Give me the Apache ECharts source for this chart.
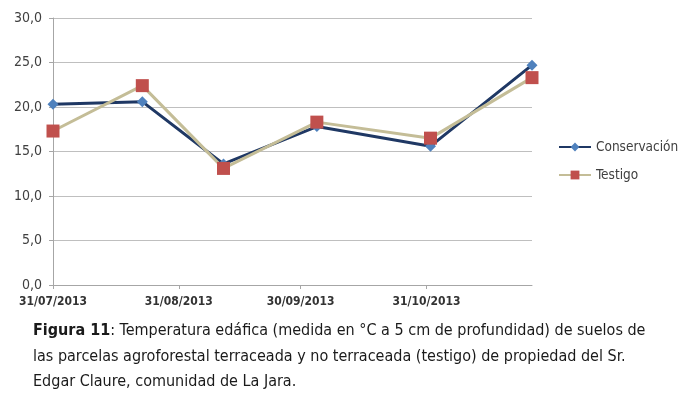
<!DOCTYPE html>
<html>
<head>
<meta charset="utf-8">
<script src="https://cdn.jsdelivr.net/npm/echarts@6/dist/echarts.min.js"></script>
<style>
  html, body { margin: 0; padding: 0; background: #fff; }
  #chart { width: 691px; height: 396px; }
</style>
</head>
<body>
<div id="chart"></div>
<script>
// fechas de muestreo y temperaturas (°C a 5 cm)
var fechas = ['2013-07-31', '2013-08-22', '2013-09-11', '2013-10-04', '2013-11-01', '2013-11-26'];
var conservacion = [20.3, 20.6, 13.6, 17.8, 15.6, 24.7];
var testigo = [17.3, 22.4, 13.1, 18.3, 16.5, 23.3];
var tickFechas = ['2013-07-31', '2013-08-31', '2013-09-30', '2013-10-31'];
var yTicks = [0, 5, 10, 15, 20, 25, 30];

var captionLines = [
  ': Temperatura edáfica (medida en °C a 5 cm de profundidad) de suelos de',
  'las parcelas agroforestal terraceada y no terraceada (testigo) de propiedad del Sr.',
  'Edgar Claure, comunidad de La Jara.'
];

var DAY = 86400000;
// días desde la primera fecha (eje de valores)
function toDay(s) {
  var p = s.split('-');
  return Math.round(Date.UTC(+p[0], +p[1] - 1, +p[2]) / DAY);
}
function pad(n) { return n < 10 ? '0' + n : '' + n; }
function fmtFecha(v) {
  var d = new Date(Math.round(v) * DAY);
  return pad(d.getUTCDate()) + '/' + pad(d.getUTCMonth() + 1) + '/' + d.getUTCFullYear();
}

var ticks = tickFechas.map(toDay);
var serieCons = fechas.map(function(f, i) { return [toDay(f), conservacion[i]]; });
var serieTest = fechas.map(function(f, i) { return [toDay(f), testigo[i]]; });

var chart = echarts.init(document.getElementById('chart'));
var FONT = '"DejaVu Sans Condensed", "DejaVu Sans", sans-serif';
var CAP = 16;

chart.setOption({
  animation: false,
  grid: { left: 53, right: 159, top: 18, bottom: 111 },
  xAxis: {
    type: 'value',
    min: toDay(fechas[0]),
    max: toDay(fechas[fechas.length - 1]),
    axisLine: { lineStyle: { color: '#a6a6a6', width: 1 } },
    axisTick: { show: true, customValues: ticks, length: 4, lineStyle: { color: '#a6a6a6' } },
    axisLabel: {
      customValues: ticks,
      formatter: function(v) { return fmtFecha(v); },
      color: '#333',
      fontFamily: FONT,
      fontWeight: 'bold',
      fontSize: 12,
      margin: 11
    },
    splitLine: { show: false }
  },
  yAxis: {
    type: 'value',
    min: yTicks[0],
    max: yTicks[yTicks.length - 1],
    interval: 5,
    axisLine: { show: true, lineStyle: { color: '#a6a6a6' } },
    axisTick: { show: true, length: 4, lineStyle: { color: '#a6a6a6' } },
    axisLabel: {
      formatter: function(v) { return v.toFixed(1).replace('.', ','); },
      color: '#404040',
      fontFamily: FONT,
      fontSize: 14,
      margin: 11
    },
    splitLine: { lineStyle: { color: '#bfbfbf', width: 1 } }
  },
  legend: {
    orient: 'vertical',
    left: 553,
    top: 135,
    itemGap: 14,
    itemWidth: 32,
    itemHeight: 11,
    textStyle: { color: '#404040', fontFamily: FONT, fontSize: 13.5 },
    data: ['Conservación', 'Testigo']
  },
  series: [
    {
      name: 'Conservación',
      type: 'line',
      data: serieCons,
      symbol: 'diamond',
      symbolSize: 11,
      lineStyle: { color: '#1f3864', width: 3 },
      itemStyle: { color: '#4f81bd', borderWidth: 0 }
    },
    {
      name: 'Testigo',
      type: 'line',
      data: serieTest,
      symbol: 'rect',
      symbolSize: 13,
      lineStyle: { color: '#c4bd97', width: 3 },
      itemStyle: { color: '#c0504d', borderWidth: 0 }
    }
  ],
  graphic: [
    {
      type: 'text',
      left: 33,
      top: 323,
      style: {
        text: '{b|Figura 11}' + captionLines[0],
        font: CAP + 'px ' + FONT,
        fill: '#1a1a1a',
        rich: { b: { fontWeight: 'bold', fontFamily: FONT, fontSize: CAP, fill: '#1a1a1a' } }
      }
    },
    {
      type: 'text',
      left: 33,
      top: 349,
      style: { text: captionLines[1], font: CAP + 'px ' + FONT, fill: '#1a1a1a' }
    },
    {
      type: 'text',
      left: 33,
      top: 374,
      style: { text: captionLines[2], font: CAP + 'px ' + FONT, fill: '#1a1a1a' }
    }
  ]
});
</script>
</body>
</html>
